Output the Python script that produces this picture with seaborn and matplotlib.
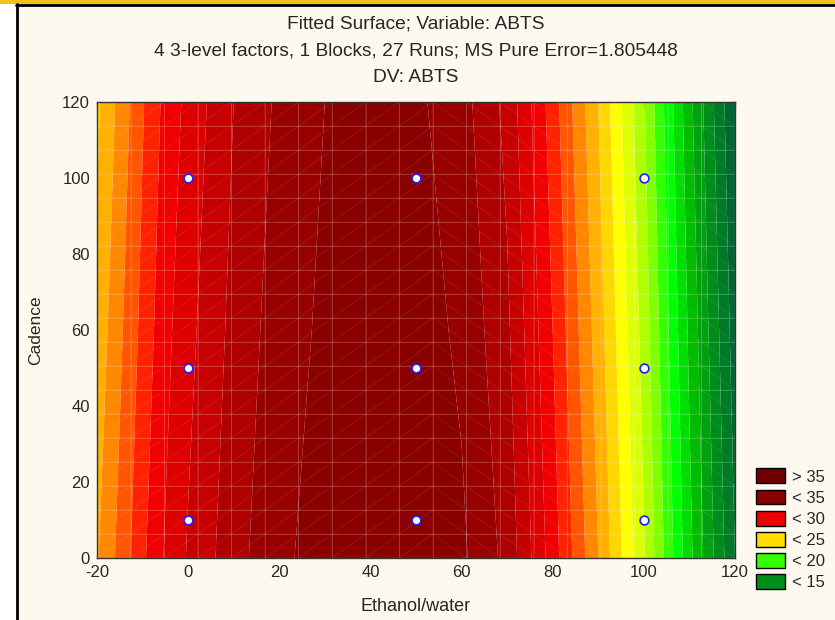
import numpy as np
import matplotlib
matplotlib.use("Agg")
import matplotlib.pyplot as plt
import matplotlib.tri as mtri
from matplotlib.colors import ListedColormap, BoundaryNorm
from matplotlib.patches import Patch, Rectangle
from matplotlib.lines import Line2D
import seaborn as sns

# fitted surface (rows: Cadence, cols: Ethanol/water)
ethanol = [-20, -15, -10, -5, 0, 10, 20, 30, 40, 50, 60, 70, 80, 90, 100, 110, 120]
cadence = [0, 60, 120]
abts_c0 = [26.9, 28.3, 29.8, 31.1, 32.1, 33.6, 34.8, 35.4, 35.8, 35.8, 35.2, 33.7, 30.5, 27.0, 23.1, 18.3, 14.0]
abts_c60 = [26.3, 27.8, 29.3, 30.7, 31.7, 33.3, 34.5, 35.2, 35.6, 35.5, 34.8, 33.2, 30.0, 26.5, 22.6, 17.8, 13.5]
abts_c120 = [25.8, 27.3, 28.9, 30.3, 31.3, 33.0, 34.2, 35.0, 35.4, 35.2, 34.4, 32.7, 29.5, 26.0, 22.1, 17.3, 13.0]

# design points
pts_x = [0, 0, 0, 50, 50, 50, 100, 100, 100]
pts_y = [10, 50, 100, 10, 50, 100, 10, 50, 100]

legend_labels = ["> 35", "< 35", "< 30", "< 25", "< 20", "< 15"]
legend_colors = ["#700000", "#8B0000", "#F00000", "#FFDD00", "#33FF00", "#008C1A"]

band_levels = list(range(12, 38))
band_colors = ["#005A30", "#006633", "#007A26", "#008C1A", "#00A010", "#00BB00",
               "#00DD00", "#00FF00", "#33FF00", "#80FF00", "#B0FF00", "#DDFF00",
               "#FFFF00", "#FFD700", "#FFB000", "#FF8800", "#FF5500", "#FF2200",
               "#F00000", "#DD0000", "#C60000", "#AE0000", "#980000", "#8A0000",
               "#820000"]

sns.set_style("white")
plt.rcParams['font.family'] = ['Liberation Sans', 'DejaVu Sans']
plt.rcParams['axes.unicode_minus'] = False

W, H = 835, 620
fig = plt.figure(figsize=(W / 100, H / 100), dpi=100)
fig.patch.set_facecolor("#FDF9EF")

# frame decoration
fig.patches.append(Rectangle((0, 0), 16 / W, 1, transform=fig.transFigure,
                             facecolor="white", edgecolor="none", zorder=0))
fig.patches.append(Rectangle((0, 1 - 4 / H), 1, 4 / H, transform=fig.transFigure,
                             facecolor="#F5C21B", edgecolor="none", zorder=1))
fig.lines.append(Line2D([16.5 / W, 16.5 / W], [0, 1 - 4 / H], transform=fig.transFigure,
                        color="black", lw=2))
fig.lines.append(Line2D([16 / W, 1], [1 - 5 / H, 1 - 5 / H], transform=fig.transFigure,
                        color="black", lw=2))

ax = fig.add_axes([97 / W, 62 / H, 638 / W, 456 / H])

Z = np.array([abts_c0, abts_c60, abts_c120])
cmap = ListedColormap(band_colors)
norm = BoundaryNorm(band_levels, cmap.N)
ax.contourf(ethanol, cadence, Z, levels=band_levels, cmap=cmap, norm=norm, antialiased=True)

# faint mesh lines like the original renderer
gx = np.linspace(-20, 120, 20)
gy = np.linspace(0, 120, 20)
for v in gx:
    ax.axvline(v, color="white", alpha=0.18, lw=0.6)
for v in gy:
    ax.axhline(v, color="white", alpha=0.18, lw=0.6)
GX, GY = np.meshgrid(gx, gy)
tris = []
n = len(gx)
for j in range(len(gy) - 1):
    for i in range(n - 1):
        a, b = j * n + i, j * n + i + 1
        c, d = (j + 1) * n + i, (j + 1) * n + i + 1
        if i < 10:
            tris += [[a, b, d], [a, d, c]]
        else:
            tris += [[a, b, c], [b, d, c]]
tri = mtri.Triangulation(GX.ravel(), GY.ravel(), np.array(tris))
ax.triplot(tri, color="white", alpha=0.13, lw=0.5)

sns.scatterplot(x=pts_x, y=pts_y, ax=ax, s=40, color="white",
                edgecolor="#1E1EFF", linewidth=1.2, zorder=5)

ax.set_xlim(-20, 120)
ax.set_ylim(0, 120)
ax.set_xticks(np.arange(-20, 121, 20))
ax.set_yticks(np.arange(0, 121, 20))
ax.tick_params(direction="in", length=4, top=True, right=True, labelsize=12,
               color="black", pad=5)
for s in ax.spines.values():
    s.set_color("#333333")
    s.set_linewidth(1)
ax.set_xlabel("Ethanol/water", fontsize=13, labelpad=13)
ax.set_ylabel("Cadence", fontsize=12.5, labelpad=14)

fig.text(416 / W, 1 - 24 / H, "Fitted Surface; Variable: ABTS", ha="center", va="center", fontsize=13.8)
fig.text(416 / W, 1 - 51 / H, "4 3-level factors, 1 Blocks, 27 Runs; MS Pure Error=1.805448",
         ha="center", va="center", fontsize=13.8)
fig.text(416 / W, 1 - 78 / H, "DV: ABTS", ha="center", va="center", fontsize=13.8)

handles = [Patch(facecolor=c, edgecolor="black", linewidth=1) for c in legend_colors]
fig.legend(handles, legend_labels, loc="upper left", bbox_to_anchor=(748 / W, 1 - 460 / H),
           frameon=False, fontsize=12, handlelength=1.7, handleheight=1.0,
           labelspacing=0.3, handletextpad=0.45, borderpad=0)

fig.savefig("out.png", dpi=100, facecolor=fig.get_facecolor())
